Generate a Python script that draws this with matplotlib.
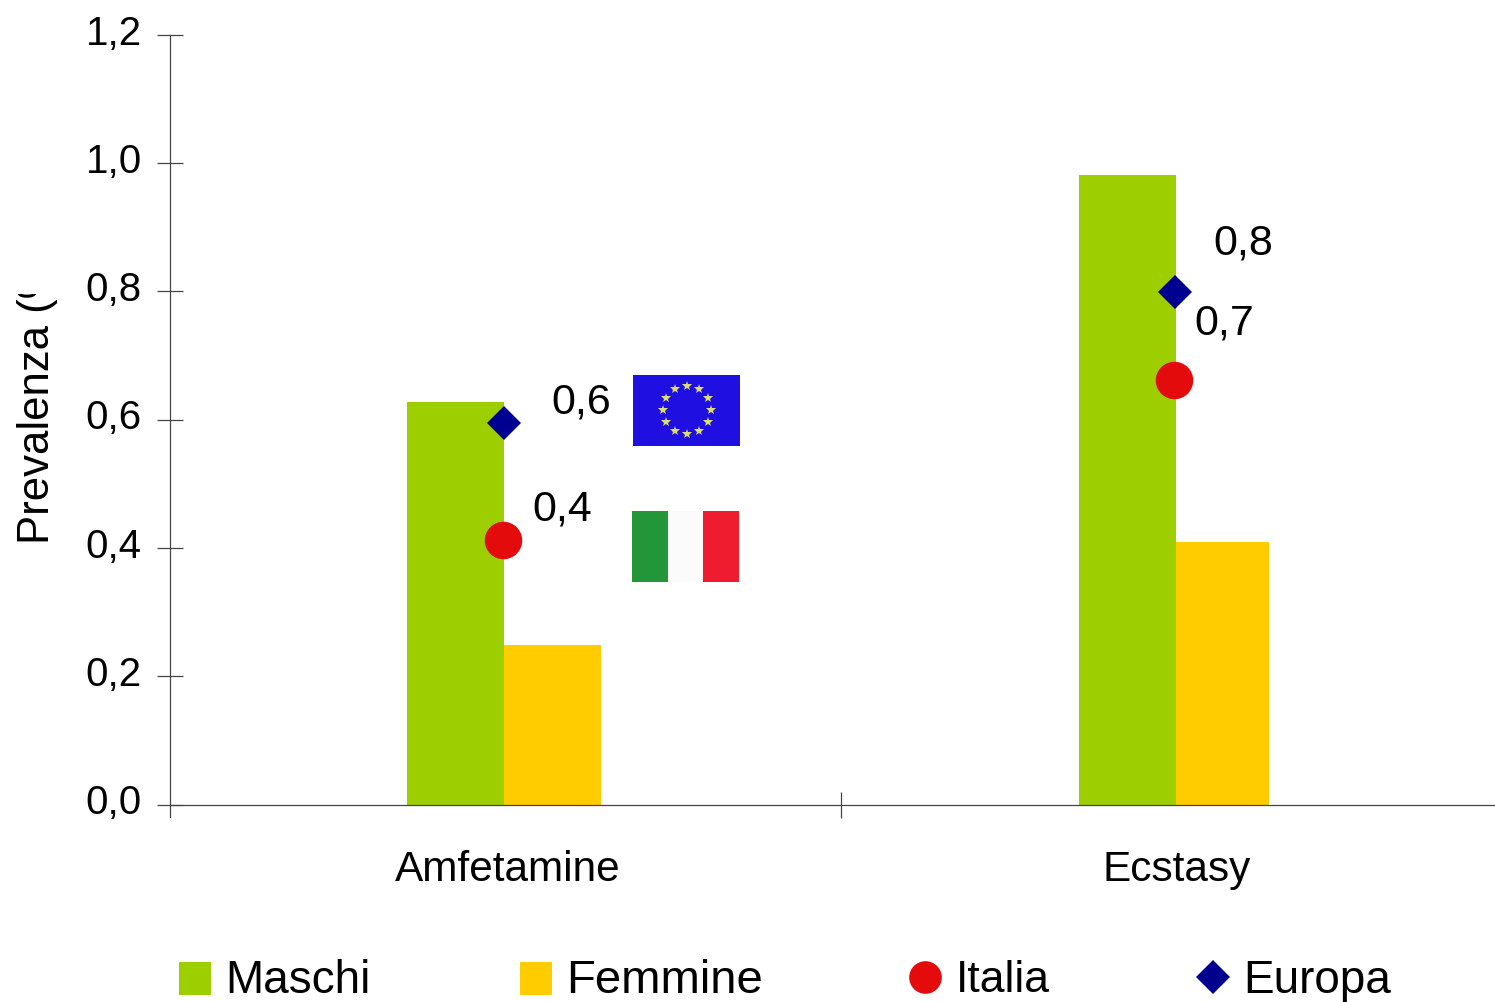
import numpy as np
from matplotlib import pyplot as plt
from matplotlib.patches import Rectangle
from matplotlib.transforms import Bbox, ScaledTranslation

plt.rcParams['font.family'] = ['Liberation Sans', 'DejaVu Sans']

W, H = 1495, 1003

categories = ["Amfetamine", "Ecstasy"]
maschi = [0.627, 0.981]
femmine = [0.248, 0.409]
italia = [0.412, 0.662]
europa = [0.595, 0.798]
italia_labels = ["0,4", "0,7"]
europa_labels = ["0,6", "0,8"]
y_ticks = [0.0, 0.2, 0.4, 0.6, 0.8, 1.0, 1.2]
y_labels = ["0,0", "0,2", "0,4", "0,6", "0,8", "1,0", "1,2"]
legend_names = ["Maschi", "Femmine", "Italia", "Europa"]
legend_sizes = [33, 34, 32, 33]

green = "#9dcf00"
yellow = "#ffcc00"
red = "#e30b0b"
navy = "#000090"
axis_col = "#444444"

fig = plt.figure(figsize=(W/100, H/100), dpi=100)
#axes box in pixels: x 170..1495, y 35..805, one category is 671 px wide
ax = fig.add_axes([170/W, 1-805.5/H, (1495-170)/W, (805.5-35.5)/H])
unit = 671
ax.set_xlim(0, (1495-170)/unit)
ax.set_ylim(0, 1.2)

edge = [334/unit, 1006/unit]
ax.bar(edge, maschi, -97/unit, align='edge', color=green, linewidth=0)
ax.bar(edge[0], femmine[0], 97/unit, align='edge', color=yellow, linewidth=0)
ax.bar(edge[1], femmine[1], 93/unit, align='edge', color=yellow, linewidth=0)

ax.plot([332.5/unit, 1004/unit], italia, 'o', color=red, ms=27, mew=0, ls='none', clip_on=False, zorder=3)
ax.plot([334/unit, 1005/unit], europa, 'D', color=navy, ms=17, mew=0, ls='none', clip_on=False, zorder=3)

for s in ['top', 'right']:
    ax.spines[s].set_visible(False)
for s in ['left', 'bottom']:
    ax.spines[s].set_linewidth(0.9)
    ax.spines[s].set_color(axis_col)
ax.spines['left'].set_bounds(-0.02, 1.2)

ax.set_yticks(y_ticks)
ax.set_yticklabels(y_labels, fontsize=29)
ax.tick_params(axis='y', direction='inout', length=18.7, width=0.9, pad=11, color=axis_col)
#labels sit a bit higher than the ticks
for lab in ax.get_yticklabels():
    lab.set_transform(lab.get_transform() + ScaledTranslation(0, 6/100, fig.dpi_scale_trans))
ax.set_xticks([1])
ax.set_xticklabels([""])
ax.tick_params(axis='x', direction='inout', length=18.7, width=0.9, color=axis_col)

for xc, name in zip([508, 1177], categories):
    fig.text(xc/W, 1-870/H, name, fontsize=30.5, ha='center', va='center', color='black')

#the original label is cut off just after the bracket
ylab = fig.text(38/W, 1-544/H, "Prevalenza (%)", fontsize=31.5, rotation=90, ha='center', va='bottom')
ylab.set_clip_box(Bbox.from_extents(0, 0, 200, H-295))
ylab.set_clip_on(True)

#point labels
for pos, s in zip([(581, 400), (1243, 240)], europa_labels):
    fig.text(pos[0]/W, 1-(pos[1]+3)/H, s, fontsize=31, ha='center', va='center')
for pos, s in zip([(562, 507), (1224, 321)], italia_labels):
    fig.text(pos[0]/W, 1-(pos[1]+2)/H, s, fontsize=31, ha='center', va='center')

#flags
def frect(x0, y0, w, h, c):
    fig.add_artist(Rectangle((x0/W, 1-(y0+h)/H), w/W, h/H, color=c, lw=0, transform=fig.transFigure))

frect(633, 376, 107, 71, "#1f0fe0")
eu_x = 687 + 24*np.cos(np.arange(12)*np.pi/6)
eu_y = 411 + 24*np.sin(np.arange(12)*np.pi/6)
fig.add_artist(plt.Line2D(eu_x/W, 1-eu_y/H, ls='none', marker='*', ms=7, color='#dcdc70', mew=0, transform=fig.transFigure))
frect(632, 512, 36, 71, "#229639")
frect(668, 512, 35, 71, "#fbfbfb")
frect(703, 512, 36, 71, "#ef1c2f")

#legend
frect(179, 963, 32, 33, green)
frect(520, 963, 32, 33, yellow)
fig.add_artist(plt.Line2D([924.5/W], [1-978/H], ls='none', marker='o', ms=23.5, color=red, mew=0, transform=fig.transFigure))
fig.add_artist(plt.Line2D([1213/W], [1-978/H], ls='none', marker='D', ms=17, color=navy, mew=0, transform=fig.transFigure))
for xp, name, fs in zip([225, 566, 956, 1243], legend_names, legend_sizes):
    fig.text(xp/W, 1-981/H, name, fontsize=fs, ha='left', va='center')

fig.savefig("out.png", dpi=100)
